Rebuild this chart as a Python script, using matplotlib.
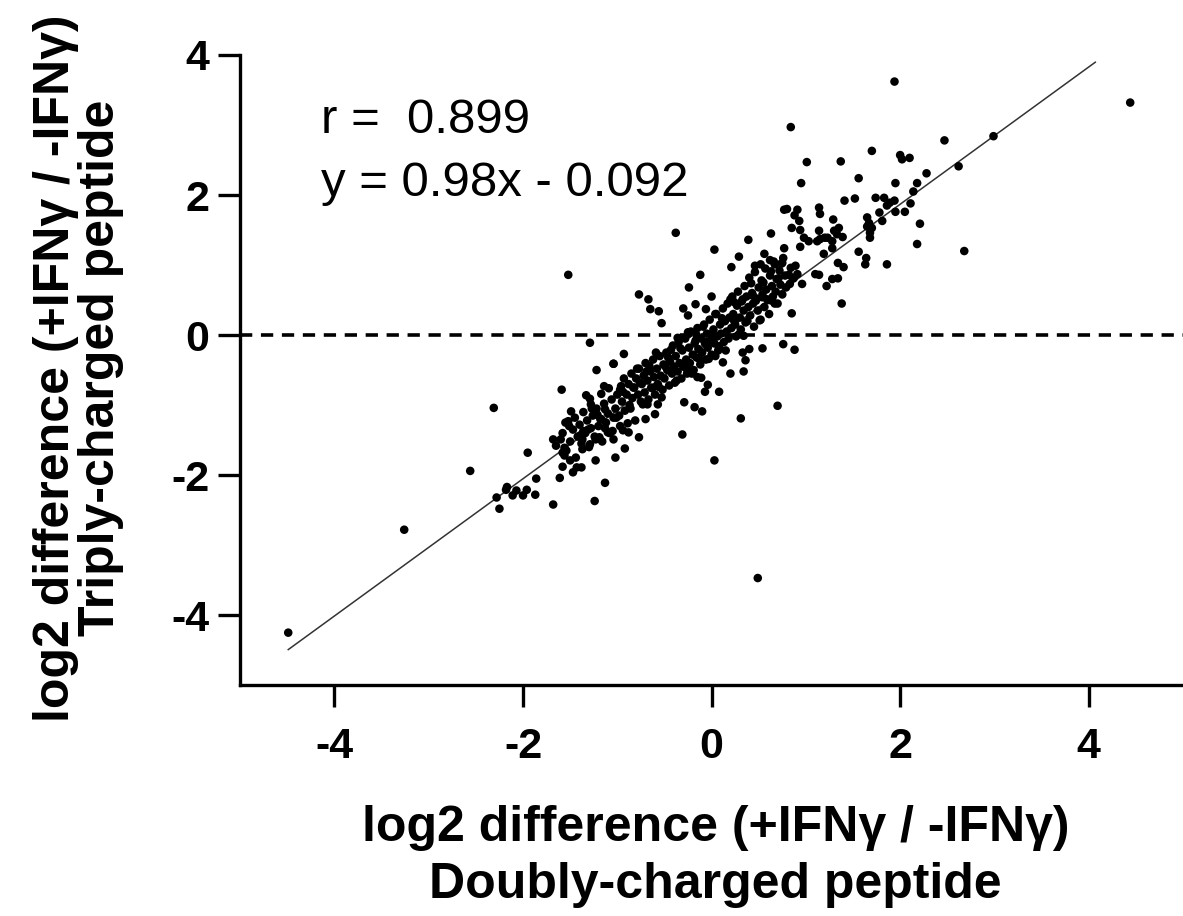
import matplotlib.pyplot as plt

# Scatter values (log2 difference, doubly vs triply charged)
# outliers / sparse points
x_sparse = [-4.49, -3.26, -2.56, -2.31, -1.95, -1.52, -0.38, 0.03, 1.94, 0.84, 2.47, 4.44, 2.99,
            2.68, 0.49, 0.03, -0.31, 0.31, 0.70, 0.88, 1.38, 0.85, -2.25, -1.86, -1.68, -1.24, -1.13]
y_sparse = [-4.25, -2.78, -1.94, -1.04, -1.68, 0.86, 1.46, 1.22, 3.62, 2.97, 2.78, 3.32, 2.84,
            1.20, -3.47, -1.79, -1.42, -1.19, -1.01, -0.21, 0.45, 0.31, -2.48, -2.05, -2.42, -2.37, -2.11]

# lower-left tail of the cloud
x_low = [-2.17, -2.18, -2.07, -1.96, -2.00, -2.11, -1.87, -2.28, -1.51, -1.68, -1.60, -1.65, -1.56,
         -1.58, -1.56, -1.54, -1.50, -1.58, -1.61, -1.47, -1.43, -1.38, -1.37, -1.37, -1.39, -1.29,
         -1.23, -1.19, -1.13, -1.31, -1.10, -1.21, -1.13, -1.17, -1.23, -1.29, -1.22, -1.59, -1.49,
         -1.33, -1.29, -1.28, -1.17, -1.14, -0.97, -0.94, -0.88, -1.05, -1.04, -0.77, -0.92, -1.02,
         -0.93, -1.04, -0.70, -0.60, -0.57, -0.68]
y_low = [-2.17, -2.21, -2.22, -2.21, -2.29, -2.29, -2.28, -2.32, -1.30, -1.49, -1.49, -1.58, -1.61,
         -1.68, -1.72, -1.65, -1.79, -1.88, -2.04, -1.96, -1.89, -1.89, -1.63, -1.49, -1.43, -1.56,
         -1.49, -1.46, -1.33, -1.35, -1.39, -1.14, -1.06, -1.20, -1.79, -0.11, -0.50, -0.78, -1.09,
         -0.86, -0.91, -0.99, -0.84, -0.73, -1.30, -1.36, -1.39, -1.37, -1.49, -1.46, -1.62, -1.75,
         -0.27, -0.41, -1.20, -1.13, -0.99, -0.99]

# dense core along the diagonal
x_core = [-1.58, -1.55, -1.50, -1.47, -1.45, -1.42, -1.40, -1.38, -1.36, -1.34, -1.32, -1.30, -1.28,
          -1.26, -1.24, -1.22, -1.20, -1.18, -1.16, -1.14, -1.12, -1.10, -1.08, -1.06, -1.04, -1.02,
          -1.00, -0.98, -0.97, -0.95, -0.93, -0.92, -0.90, -0.88, -0.87, -0.85, -0.84, -0.82, -0.81,
          -0.80, -0.78, -0.77, -0.75, -0.74, -0.72, -0.71, -0.70, -0.68, -0.67, -0.65, -0.64, -0.62,
          -0.61, -0.60, -0.58, -0.57, -0.55, -0.54, -0.52, -0.51, -0.50, -0.48, -0.47, -0.45, -0.44,
          -0.42, -0.41, -0.40, -0.39, -0.38, -0.36, -0.35, -0.34, -0.32, -0.31, -0.30, -0.28, -0.27,
          -0.26, -0.24, -0.23, -0.22, -0.20, -0.19, -0.18, -0.16, -0.15, -0.14, -0.12, -0.11, -0.10,
          -0.08, -0.07, -0.06, -0.05, -0.04, -0.02, -0.01, 0.00, 0.02, 0.03, 0.05, 0.06, 0.07,
          0.09, 0.10, 0.12, 0.13, 0.14, 0.16, 0.17, 0.18, 0.19, 0.21, 0.22, 0.23, 0.25, 0.26,
          0.27, 0.28, 0.30, 0.31, 0.32, 0.34, 0.35, 0.36, 0.37, 0.39, 0.40, 0.41, 0.43, 0.44,
          0.45, 0.46, 0.48, 0.49, 0.50, 0.52, 0.53, 0.54, 0.56, 0.57, 0.58, 0.60, 0.61, 0.62,
          0.64, 0.65, 0.66, 0.68, 0.69, 0.70, 0.72, 0.73, 0.75, 0.76, 0.78, 0.79]
y_core = [-1.40, -1.25, -1.52, -1.35, -1.18, -1.45, -1.28, -1.55, -1.10, -1.40, -1.22, -1.60, -1.33,
          -1.15, -1.45, -1.05, -1.30, -1.20, -1.52, -0.98, -1.25, -1.12, -1.40, -0.92, -1.18, -1.05,
          -0.85, -1.15, -0.78, -0.95, -0.62, -1.08, -0.85, -0.70, -1.00, -0.55, -0.90, -0.75, -1.22,
          -0.62, -0.85, -0.48, -0.95, -0.70, -0.58, -0.82, -0.40, -0.65, -0.92, -0.52, -0.75, -0.35,
          -0.60, -0.85, -0.48, -0.70, -0.30, -0.58, -0.78, -0.42, -0.62, -0.25, -0.50, -0.72, -0.38,
          -0.55, -0.15, -0.45, -0.68, -0.30, -0.52, -0.10, -0.40, -0.62, -0.22, -0.45, -0.05, -0.35,
          -0.55, -0.18, -0.40, 0.05, -0.28, -0.50, -0.12, -0.32, 0.10, -0.20, -0.42, -0.05, -0.25,
          0.15, -0.12, -0.35, 0.02, -0.18, 0.22, -0.08, -0.28, 0.08, -0.12, 0.30, -0.02, -0.22,
          0.15, 0.02, 0.38, -0.10, 0.20, 0.05, 0.45, -0.05, 0.25, 0.10, 0.55, 0.30, 0.15, -0.02,
          0.42, 0.62, 0.25, 0.08, 0.48, 0.35, 0.70, 0.18, 0.55, 0.40, 0.82, 0.28, 0.60, 0.45,
          0.12, 0.90, 0.52, 0.35, 0.68, 0.22, 0.78, 0.58, 0.40, 0.95, 0.65, 0.50, 0.30, 0.85,
          0.70, 0.55, 1.05, 0.62, 0.80, 0.45, 0.92, 0.72, 0.58, 1.10, 0.85, 0.68]

# second pass over the core (points packed between the first ones)
x_core2 = [-1.52, -1.44, -1.36, -1.27, -1.19, -1.09, -1.01, -0.94, -0.89, -0.83, -0.79, -0.73, -0.69,
           -0.63, -0.59, -0.53, -0.49, -0.43, -0.37, -0.33, -0.29, -0.25, -0.21, -0.17, -0.13, -0.09,
           -0.03, 0.01, 0.04, 0.08, 0.11, 0.15, 0.20, 0.24, 0.29, 0.33, 0.38, 0.42, 0.47, 0.51,
           0.55, 0.59, 0.63, 0.67, 0.71, 0.74, 0.82, 0.87, -0.96, -0.86, -0.76, -0.66, -0.56, -0.46,
           -0.36, -0.26, -0.16, -0.06, 0.04, 0.14, 0.24, 0.34, 0.44, 0.54, 0.64]
y_core2 = [-1.23, -1.75, -1.37, -1.05, -1.48, -0.76, -1.18, -0.81, -1.26, -0.75, -0.48, -0.99, -0.52,
           -0.76, -0.25, -0.89, -0.45, -0.21, -0.65, -0.19, -0.45, 0.04, -0.55, -0.08, -0.34, 0.12,
           -0.34, 0.02, 0.30, -0.16, 0.24, -0.22, 0.51, 0.20, 0.01, 0.51, 0.20, 0.74, 0.49, 0.21,
           0.75, 0.51, 0.91, 0.45, 0.81, 1.02, 0.86, 0.81, -0.73, -1.05, -0.68, -0.44, -0.74, -0.32,
           -0.04, -0.49, 0.00, -0.10, -0.30, 0.20, 0.47, -0.01, 0.56, 0.54, 0.49]

# points just above / around the core near the origin
x_mid = [-1.04, -0.77, -0.67, -0.65, -0.56, -0.53, -0.17, -0.30, -0.25, -0.06, 0.00, -0.33, -0.25,
         -0.12, -0.24, 0.33, 0.54, 0.76, 0.40, 0.36, 0.12, 0.20, 0.34, 0.08, -0.04, -0.15, -0.11,
         -0.07, -0.18, -0.10, -0.29, 0.83, 0.86, 0.91, 0.96, 1.10, 1.14, 1.22, 1.28, 1.34]
y_mid = [-0.41, 0.58, 0.51, 0.37, 0.34, 0.17, 0.44, 0.38, 0.28, 0.37, 0.55, -0.05, 0.01,
         0.86, 0.68, -0.25, -0.19, -0.13, -0.20, -0.36, -0.39, -0.55, -0.52, -0.81, -0.71, -0.60, -0.61,
         -0.81, -1.03, -1.09, -0.96, 0.73, 0.81, 0.87, 0.73, 0.87, 0.86, 0.70, 0.80, 0.81]

# upper-right arm of the cloud
x_up = [0.39, 0.63, 0.77, 0.77, 0.29, 0.56, 0.62, 0.21, 0.46, 0.52, 0.67, 0.75, 1.70, 2.00, 2.02,
        2.10, 1.01, 1.37, 2.62, 0.95, 1.56, 1.95, 2.28, 2.18, 2.14, 1.41, 1.52, 1.74, 1.83, 1.86,
        1.89, 1.94, 2.11, 1.95, 2.05, 1.78, 1.81, 2.21, 2.18, 0.80, 0.91, 0.88, 0.93, 1.14, 1.15,
        1.29, 0.85, 0.94, 1.14, 1.30, 1.35, 1.33, 1.65, 1.67, 1.65, 1.70, 1.68, 1.68, 0.98, 1.03,
        1.12, 1.15, 1.20, 1.23, 1.39, 0.94, 1.28, 1.28, 1.56, 1.64, 1.63, 1.86, 1.34, 1.40, 1.19,
        0.89, 0.84]
y_up = [1.36, 1.45, 1.79, 1.24, 1.12, 1.16, 1.07, 0.97, 0.99, 1.01, 1.01, 1.03, 2.63, 2.57, 2.51,
        2.53, 2.47, 2.48, 2.41, 2.17, 2.24, 2.17, 2.31, 2.17, 2.05, 1.92, 1.95, 1.96, 1.96, 1.85,
        1.89, 1.92, 1.88, 1.76, 1.76, 1.75, 1.63, 1.59, 1.30, 1.80, 1.79, 1.71, 1.63, 1.82, 1.73,
        1.65, 1.53, 1.50, 1.49, 1.49, 1.53, 1.44, 1.68, 1.60, 1.55, 1.53, 1.46, 1.39, 1.39, 1.34,
        1.34, 1.37, 1.39, 1.39, 1.40, 1.26, 1.24, 1.34, 1.19, 1.10, 1.01, 1.01, 1.03, 0.97, 1.16,
        0.99, 0.96]

x_all = x_sparse + x_low + x_core + x_core2 + x_mid + x_up
y_all = y_sparse + y_low + y_core + y_core2 + y_mid + y_up

slope, intercept = 0.98, -0.092
fit_x = [-4.49, 4.07]

plt.rcParams['font.family'] = ['Liberation Sans', 'DejaVu Sans']

fig = plt.figure(figsize=(11.83, 9.16), dpi=100)
ax = fig.add_axes([0.203, 0.252, 0.797, 0.688])

ax.axhline(0, color='black', lw=2.6, dashes=(3.4, 2.4), zorder=1)
ax.plot(fit_x, [slope * v + intercept for v in fit_x], color='#333333', lw=1.1, zorder=2)
ax.scatter(x_all, y_all, s=38, color='black', edgecolors='none', zorder=3)

ax.set_xlim(-5, 5)
ax.set_ylim(-5, 4)
ax.set_xticks([-4, -2, 0, 2, 4])
ax.set_yticks([-4, -2, 0, 2, 4])
ax.set_xticklabels(['-4', '-2', '0', '2', '4'])
ax.set_yticklabels(['-4', '-2', '0', '2', '4'])
for side in ['top', 'right']:
    ax.spines[side].set_visible(False)
for side in ['left', 'bottom']:
    ax.spines[side].set_linewidth(2.4)
ax.tick_params(width=2.4, length=16, labelsize=31, pad=6)
ax.tick_params(axis='x', pad=14)
for lbl in ax.get_xticklabels() + ax.get_yticklabels():
    lbl.set_fontweight('bold')

ax.text(-4.14, 3.07, 'r =  0.899', fontsize=35.5, va='center', ha='left')
ax.text(-4.14, 2.17, 'y = 0.98x - 0.092', fontsize=35.5, va='center', ha='left')

fig.text(0.605, 0.096, 'log2 difference (+IFNγ / -IFNγ)', fontsize=36, fontweight='bold',
         ha='center', va='center')
fig.text(0.605, 0.034, 'Doubly-charged peptide', fontsize=36, fontweight='bold',
         ha='center', va='center')
fig.text(0.047, 0.598, 'log2 difference (+IFNγ / -IFNγ)', fontsize=36, fontweight='bold',
         ha='center', va='center', rotation=90)
fig.text(0.085, 0.598, 'Triply-charged peptide', fontsize=36, fontweight='bold',
         ha='center', va='center', rotation=90)

fig.savefig('out.png', dpi=100, facecolor='white')
